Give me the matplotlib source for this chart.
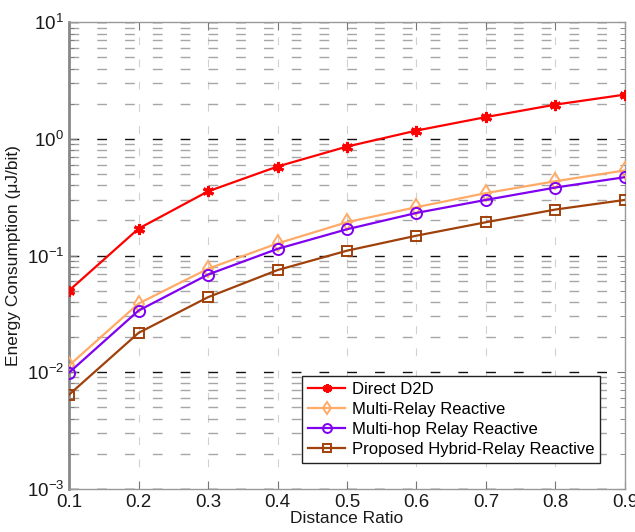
import matplotlib
matplotlib.use("Agg")
import matplotlib.pyplot as plt
from matplotlib.ticker import LogLocator, NullFormatter, FixedLocator

plt.rcParams['font.family'] = ['Liberation Sans', 'DejaVu Sans']
plt.rcParams['mathtext.fontset'] = 'custom'
plt.rcParams['mathtext.rm'] = 'Liberation Sans'

distance_ratio = [0.1, 0.2, 0.3, 0.4, 0.5, 0.6, 0.7, 0.8, 0.9]
direct_d2d = [0.050, 0.17, 0.355, 0.58, 0.86, 1.18, 1.54, 1.97, 2.40]
multi_relay = [0.0114, 0.0387, 0.077, 0.127, 0.193, 0.260, 0.343, 0.434, 0.537]
multi_hop = [0.0099, 0.0337, 0.0687, 0.114, 0.168, 0.232, 0.300, 0.383, 0.470]
hybrid_relay = [0.0064, 0.0217, 0.0439, 0.075, 0.110, 0.148, 0.193, 0.248, 0.300]
x_ticks = [0.1, 0.2, 0.3, 0.4, 0.5, 0.6, 0.7, 0.8, 0.9]
x_tick_labels = ['0.1', '0.2', '0.3', '0.4', '0.5', '0.6', '0.7', '0.8', '0.9']

fig = plt.figure(figsize=(6.35, 5.32), dpi=100)
ax = fig.add_axes([0.1087, 0.0814, 0.8755, 0.8766])

lw = 1.6
ax.plot(distance_ratio, direct_d2d, color='#FF0000', lw=lw, marker=(6, 2, 0),
        ms=8, mec='#FF0000', mew=2.2, label='Direct D2D', zorder=5)
ax.plot(distance_ratio, multi_relay, color='#FFAA66', lw=lw, marker='d',
        ms=8, mfc='none', mec='#FFAA66', mew=1.4, label='Multi-Relay Reactive', zorder=4)
ax.plot(distance_ratio, multi_hop, color='#8000F0', lw=lw, marker='o',
        ms=8, mfc='none', mec='#8000F0', mew=1.4, label='Multi-hop Relay Reactive', zorder=4)
ax.plot(distance_ratio, hybrid_relay, color='#A0400A', lw=lw, marker='s',
        ms=7, mfc='none', mec='#A0400A', mew=1.4, label='Proposed Hybrid-Relay Reactive', zorder=4)

ax.set_yscale('log')
ax.set_ylim(1e-3, 1e1)
ax.set_xlim(0.1, 0.9)
ax.xaxis.set_major_locator(FixedLocator(x_ticks))
ax.set_xticklabels(x_tick_labels)
ax.yaxis.set_major_locator(LogLocator(base=10, numticks=10))
ax.yaxis.set_minor_locator(LogLocator(base=10, subs=range(2, 10), numticks=20))
ax.yaxis.set_minor_formatter(NullFormatter())

ax.tick_params(axis='both', which='both', direction='in', top=True, right=True,
               colors='#777777', labelcolor='#1a1a1a', labelsize=13.5)
ax.tick_params(axis='both', which='major', length=6)
ax.tick_params(axis='y', which='minor', length=3.5)
for side, sp in ax.spines.items():
    sp.set_color('#999999')
    sp.set_linewidth(1.0)
ax.spines['left'].set_color('#888888')
ax.spines['left'].set_linewidth(2.0)

ax.grid(True, which='major', axis='y', color='#111111', lw=1.0, ls=(0, (7, 13)))
ax.grid(True, which='minor', axis='y', color='#888888', lw=1.0, ls=(0, (7, 13)), alpha=0.75)
ax.grid(True, which='major', axis='x', color='#999999', lw=0.8, ls=(0, (7, 13)), alpha=0.45)

ax.set_xlabel('Distance Ratio', fontsize=12.5, color='#1a1a1a', labelpad=0)
ax.set_ylabel('Energy Consumption (\u03bcJ/bit)', fontsize=12.5, color='#1a1a1a', labelpad=4)

leg = ax.legend(loc='lower right', bbox_to_anchor=(0.97, 0.038), fontsize=12,
                fancybox=False, framealpha=1, edgecolor='#222222',
                handlelength=2.2, handletextpad=0.4, borderpad=0.35,
                labelspacing=0.3, markerscale=0.8)
leg.get_frame().set_linewidth(1.0)

fig.savefig('out.png', dpi=100)
